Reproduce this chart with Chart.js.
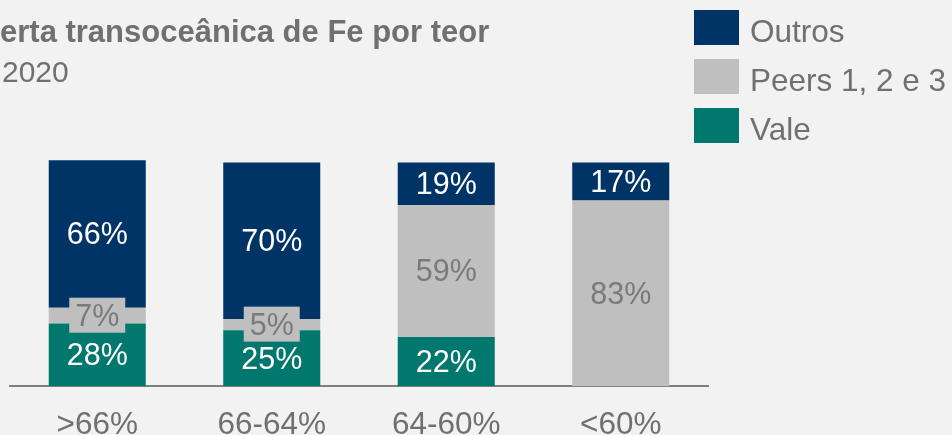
<!DOCTYPE html>
<html lang="pt-BR">
<head>
    <meta charset="UTF-8">
    <title>Oferta transoceânica de Fe por teor</title>
    <script src="https://cdn.jsdelivr.net/npm/chart.js"></script>
    <style>
        html, body { margin: 0; padding: 0; background: #f2f2f2; overflow: hidden; }
        #wrap {
            position: relative; width: 952px; height: 435px; overflow: hidden;
            font-family: "Liberation Sans", Arial, sans-serif; color: #707070;
        }
        #grafico { position: absolute; left: 0; top: 0; }
        .titulo { position: absolute; left: 0; top: 14px; font-size: 31px; font-weight: bold; line-height: 36px; white-space: nowrap; }
        .sub { position: absolute; left: 2px; top: 54px; font-size: 30px; line-height: 36px; white-space: nowrap; }
        #legenda { position: absolute; left: 694px; top: 10px; }
        .item { position: absolute; left: 0; width: 258px; height: 35px; white-space: nowrap; }
        .caixa { position: absolute; left: 0; top: 0; width: 45px; height: 35px; }
        .texto { position: absolute; left: 56px; top: 4px; font-size: 31.5px; line-height: 35px; }
    </style>
</head>
<body>
<div id="wrap">
    <canvas id="grafico" width="952" height="465"></canvas>
    <div class="titulo">erta transoceânica de Fe por teor</div>
    <div class="sub">2020</div>
    <div id="legenda"></div>
</div>

<script>
    // Dados do gráfico (%)
    const categorias = ['>66%', '66-64%', '64-60%', '<60%'];
    const series = ['Vale', 'Peers 1, 2 e 3', 'Outros'];
    const vale = [28, 25, 22, 0];
    const peers = [7, 5, 59, 83];
    const outros = [66, 70, 19, 17];

    const cores = ['#00786d', '#bfbfbf', '#003366'];
    const corRotulo = ['#ffffff', '#7a7a7a', '#ffffff'];
    const fonte = '"Liberation Sans", Arial, sans-serif';

    // Rótulos dentro das barras
    const rotulosPlugin = {
        id: 'rotulos',
        afterDatasetsDraw(chart) {
            const ctx = chart.ctx;
            ctx.save();
            ctx.font = '30.5px ' + fonte;
            ctx.textAlign = 'center';
            ctx.textBaseline = 'middle';
            chart.data.datasets.forEach((ds, i) => {
                const meta = chart.getDatasetMeta(i);
                meta.data.forEach((bar, j) => {
                    const v = ds.data[j];
                    if (!v) return;
                    const altura = Math.abs(bar.base - bar.y);
                    const cy = (bar.y + bar.base) / 2;
                    if (altura < 30) {
                        ctx.fillStyle = ds.backgroundColor;
                        ctx.fillRect(bar.x - 28, cy - 18, 56, 35);
                    }
                    ctx.fillStyle = corRotulo[i];
                    ctx.fillText(v + '%', bar.x, cy + 2);
                });
            });
            ctx.restore();
        }
    };

    const valores = [vale, peers, outros];
    const ctx = document.getElementById('grafico').getContext('2d');
    new Chart(ctx, {
        type: 'bar',
        data: {
            labels: categorias,
            datasets: series.map((nome, i) => ({
                label: nome,
                data: valores[i],
                backgroundColor: cores[i],
                borderWidth: 0,
                categoryPercentage: 1,
                barPercentage: 0.556
            }))
        },
        options: {
            responsive: false,
            animation: false,
            layout: { padding: { left: 10, right: 244, top: 140, bottom: 0 } },
            plugins: {
                legend: { display: false },
                tooltip: { enabled: false }
            },
            scales: {
                x: {
                    stacked: true,
                    grid: { display: false, drawTicks: false },
                    border: { display: true, color: '#7f7f7f', width: 2 },
                    ticks: { color: '#707070', font: { size: 31.5, family: fonte }, padding: 20.5 }
                },
                y: {
                    stacked: true,
                    display: false,
                    min: 0,
                    max: 110
                }
            }
        },
        plugins: [rotulosPlugin]
    });

    // Legenda (ordem inversa do empilhamento)
    const legenda = document.getElementById('legenda');
    series.slice().reverse().forEach((nome, k) => {
        const i = series.length - 1 - k;
        const item = document.createElement('div');
        item.className = 'item';
        item.style.top = (k * 49) + 'px';
        item.innerHTML = '<div class="caixa" style="background:' + cores[i] + '"></div>' +
            '<div class="texto"></div>';
        item.querySelector('.texto').textContent = nome;
        legenda.appendChild(item);
    });
</script>
</body>
</html>
